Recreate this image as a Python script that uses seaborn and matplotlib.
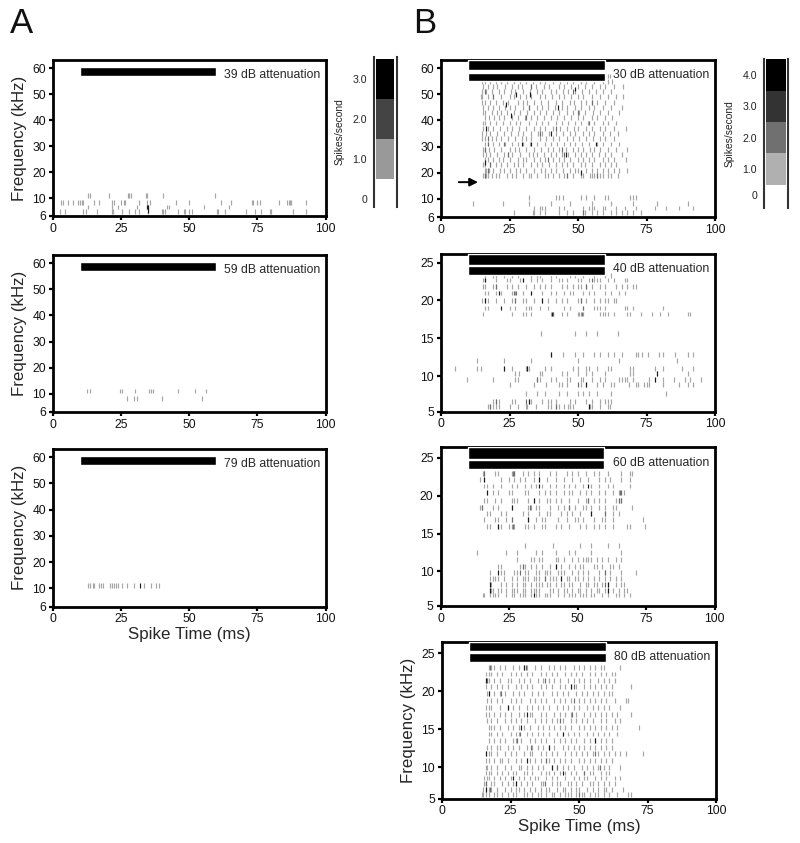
import numpy as np
import pandas as pd
import seaborn as sns
import matplotlib
matplotlib.use('Agg')
import matplotlib.pyplot as plt

# rows of spike times, one list per frequency row
a39_freq = [11, 9, 8, 7]
a39_times = [
    [13, 13.5, 20.5, 27.5, 28, 28.7, 34, 34.5, 40.5, 59.5],
    [3, 3.5, 5.5, 7.5, 9, 10, 10.5, 11, 15, 17, 21.5, 22.5, 25, 26, 26.5, 31.5, 34.5, 35.5, 45, 50, 61.5, 65.5, 73, 73.5, 75, 76, 83, 86, 86.5, 87, 87.5, 93],
    [13, 21.5, 23.7, 31, 34.5, 35, 42, 42.7, 55.5, 64.5],
    [2.5, 4.5, 11, 12, 16, 21.5, 22, 25.5, 28, 30, 31.5, 35, 40, 40.5, 41, 46, 48, 48.5, 50, 51, 60, 60.5, 63, 71, 74, 76.5, 79.5, 80, 88, 93],
]
a39_dark_f = [8, 8, 7.3]
a39_dark_t = [34.5, 35, 34.7]

a59_freq = [11.1, 9]
a59_times = [
    [12.6, 13.4, 24.5, 25.3, 30.2, 35.2, 36, 36.7, 46, 52, 56],
    [27.2, 29.7, 31, 40, 54.8],
]

a79_freq = [11]
a79_times = [[12.9, 13.6, 14.5, 15.2, 16.7, 17.5, 18.2, 20.9, 21.6, 22.3, 23, 23.7, 25.5, 27.1, 29.7, 33.5, 36, 37.8, 38.9]]
a79_dark_f = [11]
a79_dark_t = [32]

b30_freq = [7, 8, 9, 10.5, 19, 21, 23, 25, 27, 29, 31, 33, 35, 37, 39, 41, 43, 45, 47, 49, 51, 53, 55, 57]
b30_times = [
    [26.5, 33.5, 34, 36, 38, 43, 46, 48, 52, 52.5, 55, 57, 59, 62, 64, 66, 68, 70, 73],
    [34, 36, 37, 38, 43, 45, 52, 54, 55, 56, 59, 60, 64, 67, 71, 78, 82, 87, 92],
    [11.5, 22.5, 32, 40, 47, 55, 62, 70, 79, 90],
    [32, 42, 43, 44.5, 51, 53, 56, 60, 61, 69, 70, 71],
    [15.5, 16, 16.5, 17, 18.5, 20, 21, 24, 26, 27.5, 30, 32, 33, 35, 38, 39, 41, 43, 45, 46, 48, 51, 52, 54.5, 55, 56, 57, 58, 59, 61, 62, 64.5],
    [16, 16.5, 17.5, 19, 21.5, 23, 25, 27.5, 29, 31, 34, 36.5, 38, 40, 42, 44.5, 47, 49, 50, 53, 55, 57, 59, 61, 63, 65, 68],
    [15.5, 16, 18, 20, 22, 24, 26.5, 28, 30, 33, 35, 37, 39.5, 42, 44, 46, 48, 51, 52.5, 55, 58, 60, 62, 64],
    [16, 17, 19, 21, 22.5, 25, 28, 30, 31, 34, 36, 38, 41, 43, 45, 47, 50, 52, 54, 56, 59, 61, 63, 67.5],
    [15.5, 16.5, 18, 20.5, 23, 24.5, 26, 29, 32, 33.5, 35, 37.5, 40, 42, 44, 46.5, 49, 51, 53, 55, 57.5, 60, 62, 66],
    [15.5, 16, 17.5, 19.5, 22, 25, 27, 28.5, 31, 34, 36.5, 39, 41, 43, 45.5, 48, 50, 52, 54.5, 56, 58, 61, 64, 68],
    [16, 17, 19, 21, 23.5, 26, 28, 30, 32.5, 35, 38, 40, 42.5, 45, 47, 49, 51.5, 54, 57, 59, 62, 65],
    [15, 16, 18.5, 20, 22, 24.5, 27, 29.5, 31, 33, 36, 38.5, 41, 43, 46, 48, 50.5, 53, 55.5, 58, 60, 63],
    [15, 16.5, 18, 20.5, 23, 25.5, 28, 30, 33, 35.5, 37, 39.5, 42, 44.5, 47, 49, 52, 54, 56, 59, 61.5, 64.5],
    [15.5, 17, 19, 21.5, 24, 26, 28.5, 31, 34, 36, 38, 41, 43.5, 46, 48.5, 50, 53, 55, 58, 60, 63, 67.5],
    [15.5, 16, 18, 20, 22.5, 25, 27.5, 29, 32, 34.5, 37, 39, 42, 44, 46.5, 49, 51, 53.5, 56, 59, 61, 64],
    [16, 17.5, 19.5, 21, 23, 26, 28, 30.5, 33, 35, 37.5, 40, 42.5, 45, 47.5, 50, 52, 55, 57, 60, 62.5],
    [15.5, 16, 18.5, 20.5, 22, 24, 26.5, 29, 31.5, 34, 36, 38.5, 41, 43, 46, 48, 50.5, 52.5, 55.5, 58, 61, 65],
    [15.5, 17, 19, 21, 23.5, 25, 27, 30, 32, 35, 37, 39, 41.5, 44, 46, 49, 51, 54, 56, 59, 62, 66],
    [15, 16, 18, 20, 22.5, 24.5, 28, 30, 31.5, 34, 36.5, 39, 42, 44, 47, 48.5, 51, 53, 55, 57, 60, 63],
    [14.5, 15, 17, 19, 22, 25, 26.5, 29, 31, 33, 36, 38, 40.5, 43, 45, 47.5, 50, 52, 55, 58, 61, 64, 66.5],
    [15, 16.5, 18.5, 21, 23, 25.5, 27, 30, 32.5, 35, 37, 40, 42, 44.5, 46.5, 49, 51.5, 54, 56.5, 59, 62],
    [15.5, 17, 19, 20.5, 23.5, 26, 28, 29.5, 33, 34.5, 37.5, 39.5, 43, 45, 47.5, 50, 52.5, 55, 58, 60, 63, 66.5],
    [15, 16, 18, 20, 22, 24, 26.5, 29, 31, 33.5, 36, 38, 41, 43.5, 46, 48, 51, 53, 56, 59, 61, 62.5],
    [60, 61, 61.5],
]
b30_mid_f = [19, 21, 23, 27, 27, 29, 31, 35, 37, 41, 43, 45, 47, 49, 51, 51, 53, 33, 25, 39, 7, 19, 19, 29, 31]
b30_mid_t = [16, 17, 18, 24.5, 45, 16, 23, 36, 42, 31, 50, 32, 55, 19, 16, 48, 33, 17, 39, 54, 52, 46, 57, 44, 17]
b30_dark_f = [24, 37, 46, 50, 50, 52, 42, 31, 31, 20, 45, 27, 31, 35]
b30_dark_t = [15.9, 16.5, 23.8, 27.4, 32.3, 48.8, 25.6, 29.6, 33, 51.2, 42.7, 45.7, 56.7, 40]

b40_freq = [5.7, 6.4, 7.5, 8.8, 9.5, 10.3, 11, 12, 12.8, 15.6, 18.2, 19, 20, 21, 21.9, 22.7, 23.3]
b40_times = [
    [17, 18, 19, 20, 21, 25, 28, 31, 31.5, 34.5, 39, 40, 42, 43, 45, 46.5, 47, 48, 54, 54.5, 55, 58, 61, 61.5],
    [19, 20, 21, 26, 27, 32, 33, 37, 39, 40, 42, 47, 49, 53, 55, 58, 60, 61, 62],
    [31, 35, 38, 43, 46, 50, 52, 54, 57, 62, 82],
    [25, 34, 38.5, 43, 44, 46, 51, 53, 57, 59, 62, 63, 68.5, 71, 72, 74, 75, 76, 81, 87, 90, 92],
    [9.5, 19, 27, 28, 35, 36, 40, 42, 46, 47, 51, 52, 55, 58, 60, 65, 66, 67, 68, 70, 76, 78, 81, 85, 89, 91, 95],
    [27, 28.5, 36, 37, 44, 46, 50, 53, 55, 60, 69, 70, 79, 90],
    [5, 13, 14.5, 23, 26, 31, 32, 38, 40, 48, 50, 53, 54, 57, 61, 62, 69, 70, 78, 81, 88, 92],
    [13, 23, 33, 50, 65, 86],
    [40, 44.5, 49, 52, 56, 58, 61, 63, 66, 71, 72, 73.5, 75.5, 79.5, 81, 85.5, 90, 92],
    [36.5, 49, 53, 57, 64.5],
    [15.5, 26, 30, 31, 33, 40, 41, 44, 46, 50, 50.5, 51, 52, 58, 59, 60, 61, 63, 68, 69, 73, 77, 80, 83, 90, 91],
    [16, 17, 25, 27, 31, 32, 33, 36, 39, 45, 47, 52, 56, 57, 58, 60, 67, 68, 70, 81],
    [15, 16, 17, 20, 23, 26, 27, 30, 31, 34, 37, 39, 42, 44, 46, 50, 51, 53, 56, 58, 60, 61, 63, 64],
    [16, 17, 20, 22, 26, 27, 30, 33, 37, 40, 42, 45, 47, 48, 52, 54, 56, 60, 62, 65, 67],
    [15.5, 16, 19, 20, 24, 26, 28, 31, 34, 36, 38, 40, 44, 46, 48, 50, 51, 53, 55, 58, 60, 64, 66, 68, 70, 71],
    [15.5, 16, 20, 24, 25, 29, 30, 33, 35, 37, 40, 43, 44, 46, 50, 51, 54, 56, 57, 58, 61, 63, 67, 68],
    [16, 19, 20, 23, 26, 28, 33, 35, 36, 40, 42, 47, 49, 52, 56, 60, 62],
]
b40_mid_f = [18.2, 18.2, 20, 21, 21, 5.7, 6.4, 6.4, 11, 21.9, 19, 20, 22.7, 5.7, 8.8, 21.9, 9.5]
b40_mid_t = [41, 51.5, 27, 26.5, 27.5, 18, 20, 31, 31.5, 53, 52, 51, 55, 42, 50, 20, 35]
b40_dark_f = [12.8, 11, 11, 8.8, 18.2, 19, 20, 21, 22.7, 20, 10.3, 9.5, 5.7, 6.4, 21, 22.7]
b40_dark_t = [40, 23, 31.5, 53, 40.5, 22, 16, 21, 16, 37, 79, 78, 54, 32, 33, 30]

b60_freq = [6.6, 7.3, 8.1, 9, 9.9, 10.7, 11.6, 12.5, 13.4, 15.9, 16.9, 17.7, 18.5, 19.4, 20.4, 21.3, 22.2, 23]
b60_times = [
    [15.5, 16, 18, 19, 20, 21, 24, 26, 27, 29, 30, 31, 33, 35, 36, 38, 39, 40, 43, 45, 47, 48, 49, 51, 52, 53, 55, 56, 59, 61, 64, 65, 67, 69],
    [18, 18.5, 19, 21, 22, 24, 26, 27, 28, 30, 31, 33, 34, 35, 36, 40, 41, 43, 45, 46, 48, 50, 51, 53, 55, 57, 58, 60, 61, 63, 65, 67, 68],
    [18, 18.5, 22, 24, 26, 28, 30, 31, 33, 35, 36, 37, 39, 40, 42, 44, 45, 47, 48, 51, 53, 54, 56, 57, 59, 61, 64, 66, 67],
    [18, 19, 20, 21, 23, 26, 28, 30, 31, 32, 34, 35, 36, 38, 40, 41, 42, 44, 46, 47, 49, 50, 52, 54, 56, 58, 60, 62, 64, 66],
    [18, 22, 23, 27, 28, 31, 32, 35, 36, 38, 39, 40, 43, 44, 45, 48, 50, 52, 54, 58, 60, 62, 66, 71.5],
    [21, 22, 29, 30, 31, 33, 35, 37, 40, 42, 44, 47, 49, 51, 52, 56, 57, 59, 62, 63, 65],
    [28, 33, 34, 36, 37, 42, 43, 45, 48, 50, 52, 53, 54, 55, 57, 59, 61, 64, 66],
    [13.5, 24, 28, 35, 37, 42, 47, 49, 55, 66],
    [31, 41, 51, 55, 61, 65],
    [17, 18, 21, 22, 25, 26, 27, 31, 32, 34, 37, 38, 42, 44, 47, 51, 53, 56, 58, 60, 63, 68, 69, 74.5],
    [16, 20, 21, 24, 26, 32, 35, 37, 38, 43, 46, 49, 50, 52, 56, 59, 60, 63, 74],
    [17, 18, 22, 24, 30, 32, 36, 39, 40, 44, 46, 48, 51, 55, 60, 63, 65],
    [14.5, 15, 19, 21, 26, 32, 33, 35, 36, 40, 43, 45, 47, 49, 52, 53, 55, 58, 60, 63, 64, 70],
    [16, 17, 20, 22, 26, 27, 28, 32, 34, 36, 39, 40, 42, 44, 47, 50, 53, 54, 56, 58, 60, 64, 65, 66],
    [17, 19, 21, 25, 26, 31, 32, 36, 38, 40, 42, 45, 47, 48, 51, 53, 55, 58, 60, 63, 65, 67],
    [16, 17, 19, 22, 26, 28, 31, 33, 35, 37, 40, 42, 45, 47, 49, 52, 55, 58, 61, 63, 69],
    [14.5, 16, 22, 25, 27, 29, 31, 34, 36, 39, 42, 45, 48, 51, 54, 58, 60, 62, 66, 69],
    [15.5, 16, 20, 21, 26, 27, 30, 32, 34, 36, 40, 42, 46, 48, 50, 53, 56, 58, 61, 66, 69, 70],
]
b60_mid_f = [18.5, 18.5, 19.4, 19.4, 19.4, 20.4, 23, 23, 23, 17.7, 9.9, 9.9, 9, 8.1, 10.7, 18.5, 16.9, 15.9, 20.4]
b60_mid_t = [32.5, 47, 54, 65, 66, 65.5, 26.5, 27, 16, 60, 29, 60, 38, 60, 30, 15, 26, 26.5, 66]
b60_dark_f = [22.2, 21.3, 20.4, 19.4, 18.5, 16.9, 15.9, 9.9, 8.1, 7.3, 6.6, 10.7, 9, 22.2, 21.3, 17.7, 7.3, 8.1]
b60_dark_t = [16, 36, 17, 34, 26, 32, 21, 21, 18, 18, 34, 42, 44, 36, 54, 55, 61, 61]

b80_freq = [5.7, 6.5, 7.4, 8.3, 9.1, 10, 10.9, 11.8, 12.6, 13.5, 14.4, 15.3, 16.2, 17, 17.9, 18.8, 19.7, 20.6, 21.4, 22.3, 23.2]
b80_times = [
    [14.5, 15, 16, 17, 19, 20, 22, 24, 26, 27, 30, 31, 33, 35, 36, 38, 40, 41, 43, 45, 46, 47, 49, 51, 52, 54, 56, 57, 59, 61, 64, 68, 69],
    [15, 16, 17, 18, 20, 23, 25, 27, 28, 30, 32, 34, 36, 38, 39, 42, 44, 45, 47, 49, 50, 53, 55, 57, 59, 60, 62, 66],
    [15.5, 16, 18, 19, 22, 24, 26, 27, 29, 31, 33, 36, 37, 40, 42, 43, 46, 47, 49, 51, 54, 55, 57, 59, 61, 63],
    [15.5, 16.5, 17, 19, 21, 23, 25, 28, 30, 32, 34, 35, 38, 40, 42, 45, 48, 50, 52, 53, 56, 58, 60, 63, 65],
    [16, 17, 18, 20, 22, 24, 26, 27, 30, 31, 33, 36, 38, 39, 41, 43, 45, 47, 49, 52, 54, 55, 58, 60, 61],
    [16, 16.5, 18, 20, 23, 25, 28, 29, 31, 33, 35, 37, 40, 42, 44, 46, 48, 51, 53, 55, 57, 59, 61, 65],
    [16, 17, 19, 21, 22, 24, 27, 29, 32, 34, 36, 38, 39, 41, 43, 45, 47, 50, 52, 54, 56, 58, 60, 62],
    [16, 17, 18, 20, 23, 25, 27, 30, 32, 33, 36, 38, 40, 42, 45, 47, 49, 51, 53, 55, 57, 59, 61, 63, 65, 67, 73.5],
    [16.5, 18, 20, 21, 24, 26, 28, 31, 33, 35, 37, 39, 41, 44, 46, 48, 50, 52, 54, 56, 58, 60, 62],
    [17, 19, 21, 23, 26, 27, 29, 32, 34, 36, 38, 41, 43, 45, 47, 49, 52, 54, 56, 58, 60, 62],
    [17, 18, 20, 22, 25, 27, 28, 31, 33, 35, 37, 39, 42, 44, 46, 48, 50, 53, 55, 57, 59, 61, 64],
    [17, 18, 19, 21, 24, 26, 28, 30, 32, 35, 37, 39, 41, 43, 45, 47, 50, 52, 54, 56, 58, 60, 62, 64, 72],
    [16.5, 18, 20, 23, 25, 27, 29, 31, 34, 36, 38, 40, 42, 44, 47, 49, 51, 53, 55, 58, 60, 63, 65],
    [16, 17, 19, 21, 23, 25, 28, 30, 32, 33, 36, 38, 41, 43, 45, 47, 49, 52, 54, 56, 58, 60, 62, 64, 69],
    [16, 17, 18, 21, 24, 26, 28, 31, 33, 35, 37, 39, 42, 44, 46, 48, 50, 53, 55, 57, 59, 61, 65],
    [16.5, 18, 20, 22, 25, 27, 29, 32, 34, 36, 38, 41, 43, 45, 47, 50, 52, 54, 56, 58, 60, 63, 67, 68],
    [16.5, 17, 19, 21, 23, 26, 28, 30, 33, 35, 37, 40, 42, 44, 46, 49, 51, 53, 55, 57, 59, 61, 62],
    [16, 18, 20, 22, 24, 27, 29, 31, 33, 36, 38, 40, 43, 45, 47, 49, 52, 54, 56, 58, 60, 62, 69],
    [16, 17, 19, 21, 24, 25, 28, 30, 32, 35, 37, 39, 41, 43, 46, 48, 50, 52, 54, 57, 59, 61, 63],
    [16, 17, 18, 20, 22, 25, 27, 29, 31, 33, 36, 38, 40, 42, 45, 47, 49, 51, 54, 56, 58, 60, 62, 63],
    [17, 18, 19, 21, 23, 26, 28, 30, 31, 34, 36, 39, 41, 43, 45, 48, 50, 52, 54, 56, 58, 59, 65],
]
b80_mid_f = [23.2, 23.2, 21.4, 21.4, 20.6, 18.8, 16.2, 13.5, 12.6, 11.8, 10, 10, 7.4, 7.4, 5.7, 6.5, 9.1, 17, 14.4, 19.7, 10.9]
b80_mid_t = [17.5, 30.5, 16.5, 37.5, 48, 48, 43, 27.5, 32.5, 56, 42, 57.5, 16, 37.5, 50, 17.5, 52, 47.5, 28.5, 21.5, 38]
b80_dark_f = [23.2, 21.4, 19.7, 17.9, 15.3, 14.4, 13.5, 11.8, 10.9, 10, 9.1, 8.3, 7.4, 6.5, 12.6, 17, 20.6]
b80_dark_t = [30, 16, 17, 24, 29, 44, 56, 16, 31, 40, 44, 26, 27, 16, 39, 31, 47]

attenuations = ['39', '59', '79', '30', '40', '60', '80']
freq_ticks_wide = [6, 10, 20, 30, 40, 50, 60]
freq_ticks_low = [5, 10, 15, 20, 25]
time_ticks = [0, 25, 50, 75, 100]

scale_a_levels = [1, 2, 3]
scale_a_greys = ['#999999', '#444444', '#000000']
scale_a_labels = ['0', '1.0', '2.0', '3.0']
scale_b_levels = [1, 2, 3, 4]
scale_b_greys = ['#b0b0b0', '#707070', '#333333', '#000000']
scale_b_labels = ['0', '1.0', '2.0', '3.0', '4.0']

sns.set_theme(style='ticks')
plt.rcParams['font.family'] = ['Liberation Sans', 'DejaVu Sans']

FW, FH = 800, 843
fig = plt.figure(figsize=(FW / 100, FH / 100), dpi=100)


def px_axes(l, t, r, b):
    return fig.add_axes([l / FW, 1 - b / FH, (r - l) / FW, (b - t) / FH])


def spike_frame(freqs, times, mid=([], []), dark=([], [])):
    rows = []
    for f, ts in zip(freqs, times):
        rows += [(t, f, 'light') for t in ts]
    rows += [(t, f, 'mid') for f, t in zip(*mid)]
    rows += [(t, f, 'dark') for f, t in zip(*dark)]
    return pd.DataFrame(rows, columns=['time', 'freq', 'level'])


def raster(box, df, low_px, wide, bars, att, att_y, xlab=False, ylab=True):
    ax = px_axes(*box)
    # the low end of the frequency axis is stretched differently in each panel
    if wide:
        xp, yp = [6, 10, 70], [0, 18, 174]
        top, ticks = 63.1, freq_ticks_wide
    else:
        xp, yp = [5, 10, 30], [0, low_px, low_px + 152]
        top, ticks = bars[0][1], freq_ticks_low
    ax.set_yscale('function', functions=(lambda v: np.interp(v, xp, yp),
                                         lambda v: np.interp(v, yp, xp)))
    sns.scatterplot(data=df, x='time', y='freq', hue='level', marker='|', s=12,
                    linewidth=0.85, legend=False, ax=ax,
                    palette={'light': '#a6a6a6', 'mid': '#6e6e6e', 'dark': '#1c1c1c'})
    for lo, hi in bars:
        ax.barh(lo, 49.8, height=hi - lo, left=10, align='edge', color='black', zorder=4)
    ax.set_xlim(0, 100)
    ax.set_ylim(xp[0], top)
    ax.set_xticks(time_ticks)
    ax.set_yticks(ticks)
    ax.tick_params(labelsize=8.7, length=3, width=1.6, pad=2, color='black', labelcolor='#111111')
    ax.set_xlabel('Spike Time (ms)' if xlab else '', fontsize=12.2, labelpad=1)
    ax.set_ylabel('Frequency (kHz)' if ylab else '', fontsize=12.2, labelpad=4)
    for s in ax.spines.values():
        s.set_linewidth(2)
        s.set_color('black')
    ax.text(62.8, att_y, att + ' dB attenuation', fontsize=8.8, va='center', ha='left', zorder=5)
    return ax


def level_scale(box, levels, greys, labels, ymin, ymax, zero_pos, xlab_pad):
    ax = px_axes(*box)
    sns.barplot(x=[0] * len(levels), y=[1] * len(levels), ax=ax, legend=False) if False else None
    for lv, g in zip(levels, greys):
        ax.bar(0.5, 1, bottom=lv - 0.5, width=0.8, color=g, linewidth=0)
    ax.set_xlim(0, 1)
    ax.set_ylim(ymin, ymax)
    ax.set_xticks([])
    ax.set_yticks([zero_pos] + levels)
    ax.set_yticklabels(labels)
    ax.tick_params(axis='y', length=0, labelsize=7.6, pad=5, labelcolor='#222222')
    ax.set_ylabel('Spikes/second', fontsize=7.4, labelpad=xlab_pad, color='#222222')
    ax.spines['top'].set_visible(False)
    ax.spines['bottom'].set_visible(False)
    for side in ['left', 'right']:
        ax.spines[side].set_linewidth(1.5)
        ax.spines[side].set_color('#333333')
    return ax


bars_a = [(57, 60.5)]
raster((53, 60, 325.5, 216), spike_frame(a39_freq, a39_times, dark=(a39_dark_f, a39_dark_t)),
       0, True, bars_a, attenuations[0], 57.3)
raster((53, 255, 325.5, 412), spike_frame(a59_freq, a59_times),
       0, True, bars_a, attenuations[1], 57.3)
raster((53, 449, 325.5, 606.5), spike_frame(a79_freq, a79_times, dark=(a79_dark_f, a79_dark_t)),
       0, True, bars_a, attenuations[2], 57.3, xlab=True)

ax_b1 = raster((441, 60, 715, 217), spike_frame(b30_freq, b30_times, (b30_mid_f, b30_mid_t), (b30_dark_f, b30_dark_t)),
               0, True, [(59.2, 63.1), (55, 58.2)], attenuations[3], 57.3, ylab=False)
ax_b1.annotate('', xy=(13.5, 16.4), xytext=(6.5, 16.4),
               arrowprops=dict(arrowstyle='-|>', color='black', lw=1.4, shrinkA=0, shrinkB=0))
raster((441, 254, 715, 411.5), spike_frame(b40_freq, b40_times, (b40_mid_f, b40_mid_t), (b40_dark_f, b40_dark_t)),
       35.7, False, [(26.15, 26.15), (24.7, 26.15), (23.4, 24.5)][1:] if False else [(24.7, 26.15), (23.4, 24.5)][::1], attenuations[4], 24.2, ylab=False) if False else None


def low_panel(box, df, low_px, top, bars, att, att_y, xlab=False, ylab=False):
    ax = raster(box, df, low_px, False, [(top, top)], att, att_y, xlab, ylab)
    for p in list(ax.patches):
        p.remove()
    for lo, hi in bars:
        ax.barh(lo, 49.8, height=hi - lo, left=10, align='edge', color='black', zorder=4)
    return ax


low_panel((441, 254, 715, 411.5), spike_frame(b40_freq, b40_times, (b40_mid_f, b40_mid_t), (b40_dark_f, b40_dark_t)),
          35.7, 26.15, [(24.7, 26.15), (23.4, 24.5)], attenuations[4], 24.2)
low_panel((440.5, 447, 714.5, 606), spike_frame(b60_freq, b60_times, (b60_mid_f, b60_mid_t), (b60_dark_f, b60_dark_t)),
          34.7, 26.45, [(24.9, 26.45), (23.5, 24.7)], attenuations[5], 24.3)
low_panel((442, 642, 716, 798.5), spike_frame(b80_freq, b80_times, (b80_mid_f, b80_mid_t), (b80_dark_f, b80_dark_t)),
          31, 26.5, [(25.3, 26.5), (23.9, 25)], attenuations[6], 24.5, xlab=True, ylab=True)

level_scale((374, 57, 396.5, 207), scale_a_levels, scale_a_greys, scale_a_labels, -0.2, 3.55, 0, 6)
level_scale((764, 59, 788, 208), scale_b_levels, scale_b_greys, scale_b_labels, -0.25, 4.51, 0.17, 6)

fig.text(10 / FW, 1 - 33 / FH, 'A', fontsize=25, color='#111111')
fig.text(413 / FW, 1 - 33 / FH, 'B', fontsize=25, color='#111111')

fig.savefig('out.png', dpi=100, facecolor='white')
